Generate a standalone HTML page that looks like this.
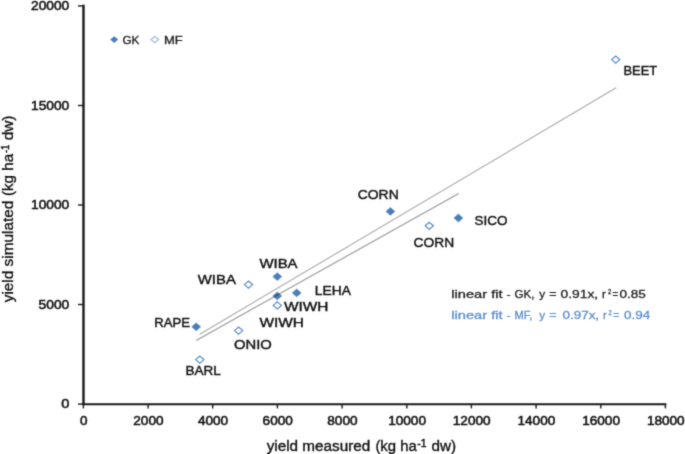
<!DOCTYPE html>
<html><head><meta charset="utf-8"><title>yield simulated vs yield measured</title>
<style>
html,body{margin:0;padding:0;background:#fff;}
body{width:685px;height:454px;overflow:hidden;}
svg{display:block;}
text{font-family:"Liberation Sans",sans-serif;}
.tick{font-size:12px;fill:#111;stroke:#111;stroke-width:0.5px;}
.lab{font-size:13px;fill:#131313;stroke:#131313;stroke-width:0.42px;}
.leg{font-size:11.8px;fill:#222;stroke:#222;stroke-width:0.35px;}
.ttl{font-size:14px;fill:#111;stroke:#111;stroke-width:0.35px;}
.ttly{font-size:14.6px;fill:#111;stroke:#111;stroke-width:0.35px;}
.sup{font-size:10.8px;fill:#111;stroke:#111;stroke-width:0.45px;}
.a1{font-size:11.3px;fill:#222;stroke:#222;stroke-width:0.3px;}
.a2{font-size:11.3px;fill:#5b8fcf;stroke:#5b8fcf;stroke-width:0.3px;}
</style></head><body>
<svg width="685" height="454" viewBox="0 0 685 454">
<defs><filter id="soft" x="0" y="0" width="685" height="454" filterUnits="userSpaceOnUse" color-interpolation-filters="sRGB"><feConvolveMatrix order="3" kernelMatrix="1 4 1 4 20 4 1 4 1" divisor="40" edgeMode="duplicate" preserveAlpha="true"/></filter></defs>
<g filter="url(#soft)">
<rect x="0" y="0" width="685" height="454" fill="#ffffff"/>

<g stroke="#1a1a1a" stroke-width="2.4" fill="none">
<line x1="83.5" y1="4.8" x2="83.5" y2="405"/>
<line x1="82.3" y1="404.2" x2="666.4" y2="404.2" stroke-width="1.9"/>
</g>
<g stroke="#1a1a1a" stroke-width="1.4" fill="none">
<line x1="78" y1="5.9" x2="83.5" y2="5.9"/>
<line x1="78" y1="105.5" x2="83.5" y2="105.5"/>
<line x1="78" y1="205.0" x2="83.5" y2="205.0"/>
<line x1="78" y1="304.5" x2="83.5" y2="304.5"/>
<line x1="78" y1="404.1" x2="83.5" y2="404.1"/>
<line x1="83.4" y1="404" x2="83.4" y2="408.4"/>
<line x1="148.1" y1="404" x2="148.1" y2="408.4"/>
<line x1="212.7" y1="404" x2="212.7" y2="408.4"/>
<line x1="277.4" y1="404" x2="277.4" y2="408.4"/>
<line x1="342.1" y1="404" x2="342.1" y2="408.4"/>
<line x1="406.8" y1="404" x2="406.8" y2="408.4"/>
<line x1="471.4" y1="404" x2="471.4" y2="408.4"/>
<line x1="536.1" y1="404" x2="536.1" y2="408.4"/>
<line x1="600.8" y1="404" x2="600.8" y2="408.4"/>
<line x1="665.4" y1="404" x2="665.4" y2="408.4"/>
</g>
<text class="tick" x="31.0" y="10.2" textLength="38.2" lengthAdjust="spacingAndGlyphs">20000</text>
<text class="tick" x="31.0" y="109.8" textLength="38.2" lengthAdjust="spacingAndGlyphs">15000</text>
<text class="tick" x="31.0" y="209.3" textLength="38.2" lengthAdjust="spacingAndGlyphs">10000</text>
<text class="tick" x="38.6" y="308.8" textLength="30.7" lengthAdjust="spacingAndGlyphs">5000</text>
<text class="tick" x="61.2" y="408.3" textLength="8.1" lengthAdjust="spacingAndGlyphs">0</text>
<text class="tick" x="79.9" y="425.4" textLength="7.5" lengthAdjust="spacingAndGlyphs">0</text>
<text class="tick" x="133.3" y="425.4" textLength="30.2" lengthAdjust="spacingAndGlyphs">2000</text>
<text class="tick" x="197.9" y="425.4" textLength="30.2" lengthAdjust="spacingAndGlyphs">4000</text>
<text class="tick" x="262.6" y="425.4" textLength="30.2" lengthAdjust="spacingAndGlyphs">6000</text>
<text class="tick" x="327.3" y="425.4" textLength="30.2" lengthAdjust="spacingAndGlyphs">8000</text>
<text class="tick" x="388.2" y="425.4" textLength="37.8" lengthAdjust="spacingAndGlyphs">10000</text>
<text class="tick" x="452.8" y="425.4" textLength="37.8" lengthAdjust="spacingAndGlyphs">12000</text>
<text class="tick" x="517.5" y="425.4" textLength="37.8" lengthAdjust="spacingAndGlyphs">14000</text>
<text class="tick" x="582.2" y="425.4" textLength="37.8" lengthAdjust="spacingAndGlyphs">16000</text>
<text class="tick" x="646.9" y="425.4" textLength="37.8" lengthAdjust="spacingAndGlyphs">18000</text>
<polygon points="191.8,326.8 196.2,322.9 200.6,326.8 196.2,330.7" fill="#4a7ebb" stroke="#4a7ebb" stroke-width="0.6"/>
<polygon points="272.9,276.6 277.3,272.7 281.7,276.6 277.3,280.5" fill="#4a7ebb" stroke="#4a7ebb" stroke-width="0.6"/>
<polygon points="272.9,295.9 277.3,292.0 281.7,295.9 277.3,299.8" fill="#4a7ebb" stroke="#4a7ebb" stroke-width="0.6"/>
<polygon points="292.3,292.9 296.7,289.0 301.1,292.9 296.7,296.8" fill="#4a7ebb" stroke="#4a7ebb" stroke-width="0.6"/>
<polygon points="386.0,211.4 390.4,207.5 394.8,211.4 390.4,215.3" fill="#4a7ebb" stroke="#4a7ebb" stroke-width="0.6"/>
<polygon points="454.0,218.0 458.4,214.1 462.8,218.0 458.4,221.9" fill="#4a7ebb" stroke="#4a7ebb" stroke-width="0.6"/>
<polygon points="195.7,359.6 199.8,356.0 203.9,359.6 199.8,363.2" fill="#ffffff" stroke="#5589c8" stroke-width="1.2"/>
<polygon points="234.5,330.6 238.6,327.0 242.7,330.6 238.6,334.2" fill="#ffffff" stroke="#5589c8" stroke-width="1.2"/>
<polygon points="244.4,284.6 248.5,281.0 252.6,284.6 248.5,288.2" fill="#ffffff" stroke="#5589c8" stroke-width="1.2"/>
<polygon points="273.2,305.4 277.3,301.8 281.4,305.4 277.3,309.0" fill="#ffffff" stroke="#5589c8" stroke-width="1.2"/>
<polygon points="425.2,225.8 429.3,222.2 433.4,225.8 429.3,229.4" fill="#ffffff" stroke="#5589c8" stroke-width="1.2"/>
<polygon points="611.6,59.6 615.7,56.0 619.8,59.6 615.7,63.2" fill="#ffffff" stroke="#5589c8" stroke-width="1.2"/>
<g fill="none" stroke-linecap="butt">
<line x1="199.8" y1="334.2" x2="616.2" y2="87.8" stroke="#000" stroke-opacity="0.34" stroke-width="1.1"/>
<line x1="196.2" y1="340.5" x2="458.7" y2="193.4" stroke="#000" stroke-opacity="0.42" stroke-width="1.1"/>
</g>
<polygon points="110.2,39.6 114.2,36.3 118.2,39.6 114.2,42.9" fill="#4a7ebb"/>
<polygon points="151.0,39.6 154.8,36.5 158.6,39.6 154.8,42.7" fill="#fff" stroke="#a3bde0" stroke-width="1.3"/>
<text class="leg" x="122.4" y="43.6" textLength="17" lengthAdjust="spacingAndGlyphs">GK</text>
<text class="leg" x="164" y="43.6" textLength="18.8" lengthAdjust="spacingAndGlyphs">MF</text>
<text class="lab" x="197.8" y="284.0" textLength="38.1" lengthAdjust="spacingAndGlyphs">WIBA</text>
<text class="lab" x="259.4" y="268.0" textLength="38.2" lengthAdjust="spacingAndGlyphs">WIBA</text>
<text class="lab" x="154.3" y="326.9" textLength="35.8" lengthAdjust="spacingAndGlyphs">RAPE</text>
<text class="lab" x="185.5" y="374.8" textLength="35.4" lengthAdjust="spacingAndGlyphs">BARL</text>
<text class="lab" x="234.0" y="348.6" textLength="37.8" lengthAdjust="spacingAndGlyphs">ONIO</text>
<text class="lab" x="283.9" y="311.0" textLength="44.6" lengthAdjust="spacingAndGlyphs">WIWH</text>
<text class="lab" x="259.4" y="326.8" textLength="44.5" lengthAdjust="spacingAndGlyphs">WIWH</text>
<text class="lab" x="314.8" y="295.0" textLength="36.1" lengthAdjust="spacingAndGlyphs">LEHA</text>
<text class="lab" x="357.7" y="198.6" textLength="41.0" lengthAdjust="spacingAndGlyphs">CORN</text>
<text class="lab" x="413.6" y="246.8" textLength="40.6" lengthAdjust="spacingAndGlyphs">CORN</text>
<text class="lab" x="474.5" y="225.4" textLength="33.0" lengthAdjust="spacingAndGlyphs">SICO</text>
<text class="lab" x="623.5" y="75.0" textLength="33.7" lengthAdjust="spacingAndGlyphs">BEET</text>
<g>
<text class="a1" x="451.3" y="297.9" textLength="51.3" lengthAdjust="spacingAndGlyphs">linear fit</text>
<text class="a1" x="506.6" y="297.9" textLength="4.1" lengthAdjust="spacingAndGlyphs">-</text>
<text class="a1" x="514.6" y="297.9" textLength="19.9" lengthAdjust="spacingAndGlyphs">GK,</text>
<text class="a1" x="539.3" y="297.9" textLength="5.9" lengthAdjust="spacingAndGlyphs">y</text>
<text class="a1" x="549.3" y="297.9" textLength="7.3" lengthAdjust="spacingAndGlyphs">=</text>
<text class="a1" x="560.6" y="297.9" textLength="37.6" lengthAdjust="spacingAndGlyphs">0.91x,</text>
<text class="a1" x="601.9" y="297.9" textLength="3.8" lengthAdjust="spacingAndGlyphs">r</text>
<text class="a1" x="607.9" y="294.1" textLength="3.3" lengthAdjust="spacingAndGlyphs" style="font-size:7.6px">2</text>
<text class="a1" x="612.6" y="297.9" textLength="5.6" lengthAdjust="spacingAndGlyphs">=</text>
<text class="a1" x="619.5" y="297.9" textLength="26.3" lengthAdjust="spacingAndGlyphs">0.85</text>
</g><g>
<text class="a2" x="451.3" y="318.5" textLength="51.3" lengthAdjust="spacingAndGlyphs">linear fit</text>
<text class="a2" x="506.6" y="318.5" textLength="4.1" lengthAdjust="spacingAndGlyphs">-</text>
<text class="a2" x="514.6" y="318.5" textLength="17.8" lengthAdjust="spacingAndGlyphs">MF,</text>
<text class="a2" x="539.3" y="318.5" textLength="5.9" lengthAdjust="spacingAndGlyphs">y</text>
<text class="a2" x="549.3" y="318.5" textLength="7.3" lengthAdjust="spacingAndGlyphs">=</text>
<text class="a2" x="562.5" y="318.5" textLength="36.6" lengthAdjust="spacingAndGlyphs">0.97x,</text>
<text class="a2" x="602.9" y="318.5" textLength="3.7" lengthAdjust="spacingAndGlyphs">r</text>
<text class="a2" x="608.6" y="314.7" textLength="3.3" lengthAdjust="spacingAndGlyphs" style="font-size:7.6px">2</text>
<text class="a2" x="613.2" y="318.5" textLength="6.0" lengthAdjust="spacingAndGlyphs">=</text>
<text class="a2" x="624.0" y="318.5" textLength="26.2" lengthAdjust="spacingAndGlyphs">0.94</text>
</g>
<g>
<text class="ttl" x="266.7" y="450.9" textLength="103.5" lengthAdjust="spacingAndGlyphs">yield measured</text>
<text class="ttl" x="375.4" y="450.9" textLength="41.4" lengthAdjust="spacingAndGlyphs">(kg ha</text>
<text class="sup" x="417.2" y="447.0" textLength="9.2" lengthAdjust="spacingAndGlyphs">-1</text>
<text class="ttl" x="431.6" y="450.9" textLength="24.6" lengthAdjust="spacingAndGlyphs">dw)</text>
</g>
<g transform="translate(12.9,302.3) rotate(-90)">
<text class="ttly" x="0.0" y="0.0" textLength="101.7" lengthAdjust="spacingAndGlyphs">yield simulated</text>
<text class="ttly" x="106.2" y="0.0" textLength="42.2" lengthAdjust="spacingAndGlyphs">(kg ha</text>
<text class="sup" x="149.2" y="-4.4" textLength="8.6" lengthAdjust="spacingAndGlyphs">-1</text>
<text class="ttly" x="162.0" y="0.0" textLength="24.8" lengthAdjust="spacingAndGlyphs">dw)</text>
</g>
</g>
</svg>
</body></html>
